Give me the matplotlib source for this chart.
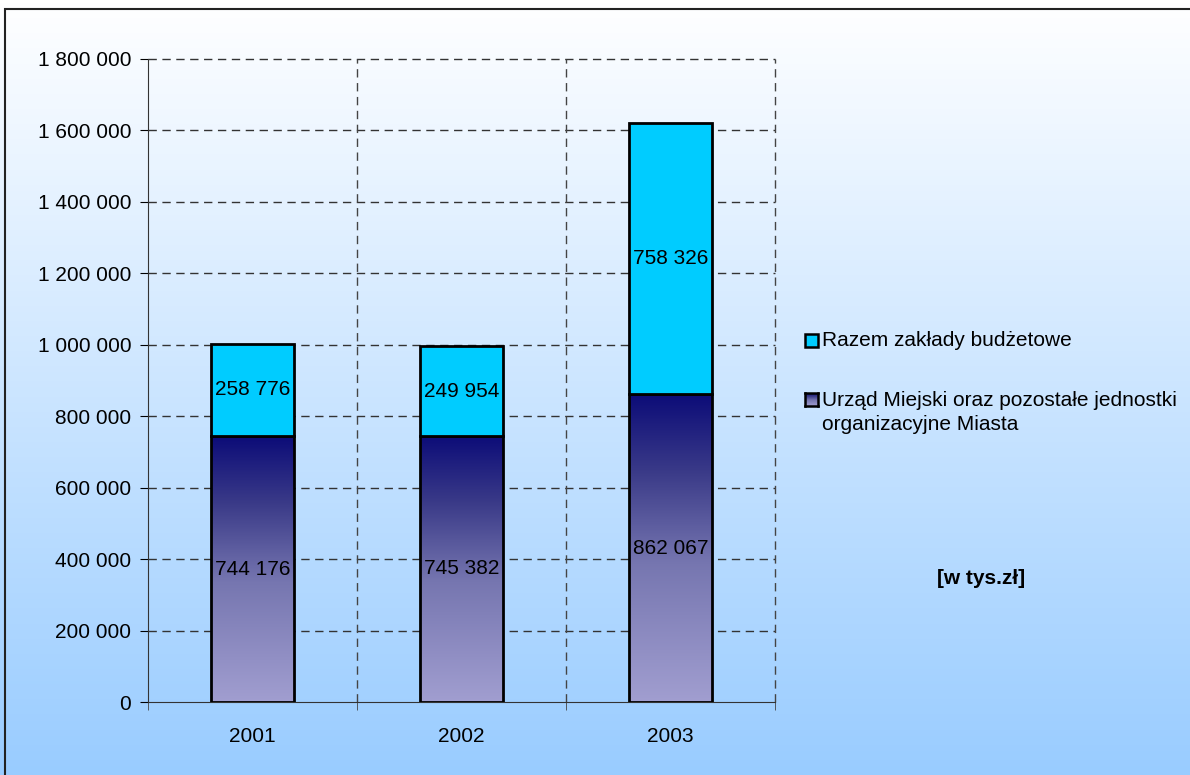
import numpy as np
import matplotlib
matplotlib.use("Agg")
import matplotlib.pyplot as plt
from matplotlib.colors import LinearSegmentedColormap
from matplotlib.patches import Rectangle
from matplotlib.ticker import FuncFormatter, MultipleLocator

plt.rcParams['font.family'] = ['Liberation Sans', 'DejaVu Sans']

# Data
years = ['2001', '2002', '2003']
urzad = [744176, 745382, 862067]
zaklady = [258776, 249954, 758326]
series_names = ['Razem zakłady budżetowe',
                'Urząd Miejski oraz pozostałe jednostki\norganizacyjne Miasta']
unit_label = '[w tys.zł]'

FS = 15

def fmt(v, pos=None):
    return '{:,.0f}'.format(v).replace(',', ' ')

W, H = 1190, 775
fig = plt.figure(figsize=(W / 100, H / 100), dpi=100)

# figure background gradient (white -> light blue)
bg = fig.add_axes([0, 0, 1, 1], zorder=-10)
bg_cmap = LinearSegmentedColormap.from_list('bg', ['#FFFFFF', '#99CCFF'])
grad = np.linspace(0, 1, 256).reshape(-1, 1)
bg.imshow(grad, cmap=bg_cmap, aspect='auto', extent=[0, 1, 0, 1], origin='upper')
bg.add_patch(Rectangle((5 / W, -0.1), 1.2, 1 - 9 / H + 0.1, fill=False,
                       edgecolor='#222222', linewidth=1.5, transform=bg.transAxes))
bg.set_xlim(0, 1)
bg.set_ylim(0, 1)
bg.axis('off')

# main axes
ax = fig.add_axes([148 / W, (H - 702) / H, (775 - 148) / W, (702 - 59) / H])
ax.patch.set_alpha(0)

x = np.arange(len(years))
width = 0.4
bar_cmap = LinearSegmentedColormap.from_list(
    'bars', [(0.0, '#0C0C78'), (0.25, '#3A3A88'), (0.55, '#7676B0'), (1.0, '#A19ED0')])

bot = ax.bar(x, urzad, width, color='none', edgecolor='black', linewidth=2, zorder=3)
top = ax.bar(x, zaklady, width, bottom=urzad, color='#00CCFF', edgecolor='black',
             linewidth=2, zorder=3)

# gradient fill for the lower series, each bar on its own
for rect in bot:
    x0, y0 = rect.get_x(), rect.get_y()
    w, h = rect.get_width(), rect.get_height()
    im = ax.imshow(grad, cmap=bar_cmap, aspect='auto',
                   extent=[x0, x0 + w, y0, y0 + h], origin='upper', zorder=2)
    im.set_clip_path(rect)

for i in range(len(years)):
    ax.text(x[i], urzad[i] / 2, fmt(urzad[i]), ha='center', va='center',
            fontsize=FS, zorder=5)
    ax.text(x[i], urzad[i] + zaklady[i] / 2, fmt(zaklady[i]), ha='center',
            va='center', fontsize=FS, zorder=5)

ax.set_xlim(-0.5, len(years) - 0.5)
ax.set_ylim(0, 1800000)
ax.yaxis.set_major_locator(MultipleLocator(200000))
ax.yaxis.set_major_formatter(FuncFormatter(fmt))
ax.set_xticks(x)
ax.set_xticklabels(years)
ax.set_xticks(np.arange(-0.5, len(years)), minor=True)
ax.tick_params(axis='x', which='major', length=0, pad=18, labelsize=FS)
ax.tick_params(axis='x', which='minor', length=6, direction='out', color='#444444')
ax.tick_params(axis='y', length=6, direction='out', pad=6, labelsize=FS)

# dashed grid
for yv in np.arange(200000, 1800001, 200000):
    ax.axhline(yv, linestyle=(0, (6, 4)), color='#333333', linewidth=1,
               zorder=1, clip_on=False)
for xv in np.arange(0.5, len(years)):
    ax.axvline(xv, linestyle=(0, (6, 4)), color='#444444', linewidth=1,
               zorder=1, clip_on=False)

ax.spines['top'].set_visible(False)
ax.spines['right'].set_visible(False)
ax.spines['left'].set_color('#333333')
ax.spines['bottom'].set_color('#333333')

# legend, drawn by hand
def fx(px):
    return px / W

def fy(py):
    return 1 - py / H

sq = 13
fig.patches.append(Rectangle((fx(805), fy(347)), sq / W, sq / H, facecolor='#00CCFF',
                             edgecolor='black', linewidth=1.8, transform=fig.transFigure))
fig.text(fx(822), fy(340), series_names[0], fontsize=FS, va='center', ha='left')

lax = fig.add_axes([fx(805), fy(406), sq / W, sq / H])
lax.imshow(grad, cmap=bar_cmap, aspect='auto', extent=[0, 1, 0, 1])
lax.set_xticks([])
lax.set_yticks([])
for s in lax.spines.values():
    s.set_linewidth(1.8)
fig.text(fx(822), fy(400), series_names[1].split('\n')[0], fontsize=FS, va='center', ha='left')
fig.text(fx(822), fy(425), series_names[1].split('\n')[1], fontsize=FS, va='center', ha='left')

fig.text(fx(981), fy(578), unit_label, fontsize=FS, fontweight='bold', ha='center', va='center')

fig.savefig('out.png', dpi=100)
